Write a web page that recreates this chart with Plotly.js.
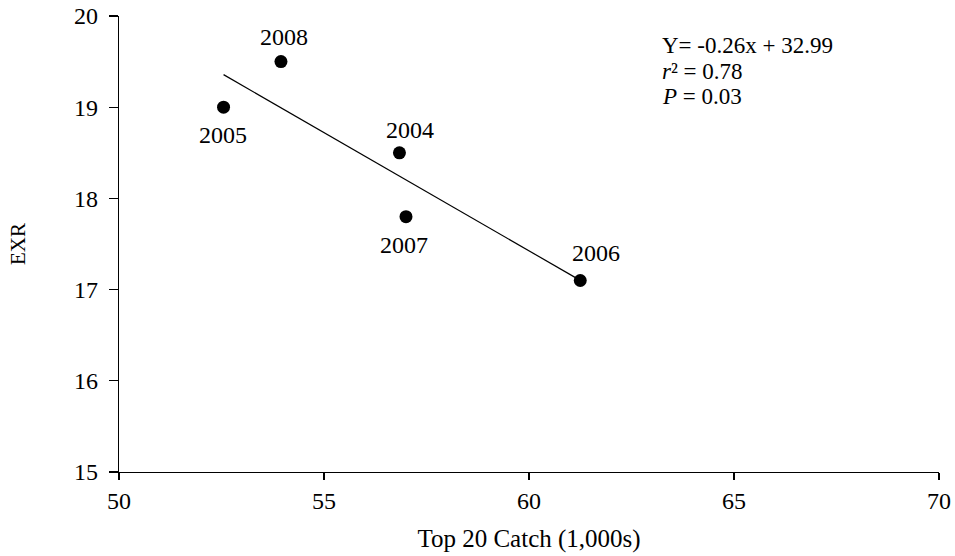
<!DOCTYPE html>
<html>
<head>
<meta charset="utf-8">
<script src="https://cdn.plot.ly/plotly-3.0.1.min.js"></script>
<style>html,body{margin:0;padding:0;background:#fff}#chart{width:955px;height:556px}</style>
</head>
<body>
<div id="chart"></div>
<script>
// Data
const years = ["2004", "2005", "2006", "2007", "2008"];
const catchTop20 = [56.84, 52.55, 61.25, 57.0, 53.95];
const exr = [18.5, 19.0, 17.1, 17.8, 19.5];
const eqSlope = -0.26;
const eqIntercept = 32.99;
const statR2 = 0.78;
const statP = 0.03;
const xTicks = [50, 55, 60, 65, 70];
const yTicks = [15, 16, 17, 18, 19, 20];

// Label placement (style only)
const labelOffsets = {
  "2004": {dx: 11, dy: 23},
  "2005": {dx: -1, dy: -28},
  "2006": {dx: 16, dy: 27},
  "2007": {dx: -2, dy: -28},
  "2008": {dx: 3, dy: 25}
};

const FONT = "Liberation Serif";

// least-squares fit line through the data
const n = catchTop20.length;
const mx = catchTop20.reduce((a, b) => a + b, 0) / n;
const my = exr.reduce((a, b) => a + b, 0) / n;
let sxy = 0, sxx = 0;
for (let i = 0; i < n; i++) { sxy += (catchTop20[i] - mx) * (exr[i] - my); sxx += (catchTop20[i] - mx) ** 2; }
const b1 = sxy / sxx, b0 = my - b1 * mx;
const fitX = [Math.min(...catchTop20), Math.max(...catchTop20)];
const fitY = fitX.map(v => b1 * v + b0);

const traces = [
  {x: fitX, y: fitY, mode: "lines", type: "scatter",
   line: {color: "#000", width: 1.2}, hoverinfo: "skip", showlegend: false},
  {x: catchTop20, y: exr, mode: "markers", type: "scatter",
   marker: {color: "#000", size: 13, symbol: "circle"}, showlegend: false}
];

const annotations = years.map((yr, i) => ({
  x: catchTop20[i], y: exr[i], xref: "x", yref: "y", text: yr, showarrow: false,
  xshift: labelOffsets[yr].dx, yshift: labelOffsets[yr].dy,
  font: {family: FONT, size: 24, color: "#000"}
}));

const sign = eqIntercept >= 0 ? "+" : "-";
const statLines = [
  "Y= " + eqSlope.toFixed(2) + "x " + sign + " " + Math.abs(eqIntercept).toFixed(2),
  "<i>r</i>² = " + statR2.toFixed(2),
  "<i>P</i> = " + statP.toFixed(2)
];
const statY = [0.935, 0.878, 0.824];
statLines.forEach((t, i) => annotations.push({
  x: 0.66, y: statY[i], xref: "paper", yref: "paper", xanchor: "left", yanchor: "middle",
  text: t, showarrow: false, font: {family: FONT, size: 23, color: "#000"}
}));

const layout = {
  width: 955, height: 556,
  margin: {l: 119, r: 16, t: 16, b: 84},
  paper_bgcolor: "#fff", plot_bgcolor: "#fff",
  font: {family: FONT, size: 24, color: "#000"},
  xaxis: {
    range: [50, 70], tickvals: xTicks, ticktext: xTicks.map(String),
    showgrid: false, zeroline: false, showline: true, linecolor: "#000", linewidth: 1.3,
    ticks: "outside", ticklen: 7, tickwidth: 1.3, tickcolor: "#000",
    tickfont: {family: FONT, size: 24, color: "#000"},
    title: {text: "Top 20 Catch (1,000s)", font: {family: FONT, size: 25, color: "#000"}, standoff: 16}
  },
  yaxis: {
    range: [15, 20], tickvals: yTicks, ticktext: yTicks.map(String),
    showgrid: false, zeroline: false, showline: true, linecolor: "#000", linewidth: 1.3,
    ticks: "outside", ticklen: 9, tickwidth: 1.3, tickcolor: "#000",
    ticklabelstandoff: 6,
    tickfont: {family: FONT, size: 24, color: "#000"},
    title: {text: "EXR", font: {family: FONT, size: 21, color: "#000"}, standoff: 42}
  },
  annotations: annotations,
  showlegend: false
};

Plotly.newPlot("chart", traces, layout, {displayModeBar: false, staticPlot: true});
</script>
</body>
</html>
